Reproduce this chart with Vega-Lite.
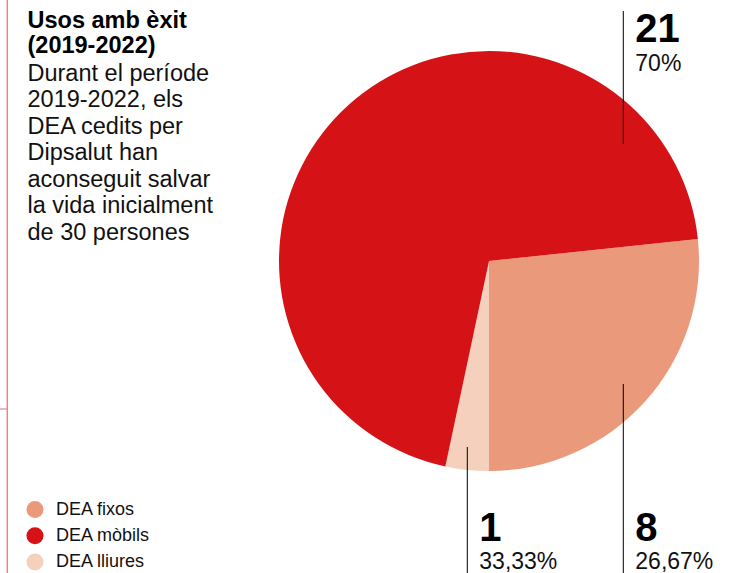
{
  "$schema": "https://vega.github.io/schema/vega-lite/v6.json",
  "width": 420,
  "height": 420,
  "autosize": {"type": "none"},
  "padding": {"left": 279, "top": 51, "right": 48, "bottom": 102},
  "background": "white",
  "config": {"view": {"stroke": null}, "font": "Liberation Sans"},
  "title": {
    "text": ["Usos amb èxit", "(2019-2022)"],
    "subtitle": ["Durant el període", "2019-2022, els", "DEA cedits per", "Dipsalut han", "aconseguit salvar", "la vida inicialment", "de 30 persones"],
    "anchor": "start",
    "frame": "group",
    "orient": "top",
    "dx": -251.5,
    "dy": 249,
    "font": "Liberation Sans",
    "fontSize": 23.5,
    "fontWeight": "bold",
    "color": "#000000",
    "lineHeight": 25,
    "subtitleFont": "Liberation Sans",
    "subtitleFontSize": 23.5,
    "subtitleColor": "#111111",
    "subtitleLineHeight": 26.5,
    "subtitlePadding": 4
  },
  "data": {
    "values": [
      {"categoria": "DEA fixos", "valor": 8, "percentatge": "26,67%"},
      {"categoria": "DEA lliures", "valor": 1, "percentatge": "33,33%"},
      {"categoria": "DEA mòbils", "valor": 21, "percentatge": "70%"}
    ]
  },
  "layer": [
    {
      "mark": {"type": "arc", "outerRadius": 210},
      "encoding": {
        "theta": {"field": "valor", "type": "quantitative", "stack": true, "scale": {"range": [1.46608, 7.74926]}},
        "order": {"field": "categoria", "sort": "ascending"},
        "color": {
          "field": "categoria",
          "type": "nominal",
          "scale": {"domain": ["DEA fixos", "DEA mòbils", "DEA lliures"], "range": ["#EB997B", "#D51317", "#F5D0BC"]},
          "legend": {
            "orient": "none",
            "legendX": -253,
            "legendY": 449.5,
            "title": null,
            "symbolType": "circle",
            "symbolSize": 290,
            "symbolStrokeWidth": 0,
            "symbolOpacity": 1,
            "labelFont": "Liberation Sans",
            "labelFontSize": 18,
            "labelColor": "#111111",
            "labelOffset": 12,
            "rowPadding": 8.2,
            "padding": 0
          }
        }
      }
    },
    {
      "transform": [{"filter": "datum.categoria === 'DEA mòbils'"}],
      "mark": {"type": "rule", "color": "#000000", "strokeWidth": 1},
      "encoding": {
        "x": {"field": "valor", "type": "quantitative", "axis": null, "scale": {"domain": [1, 8], "range": [188.3, 344.3], "clamp": true, "zero": false, "nice": false}},
        "y": {"field": "valor", "type": "quantitative", "axis": null, "scale": {"domain": [0, 21], "range": [93, -40], "zero": false, "nice": false}},
        "y2": {"datum": 0}
      }
    },
    {
      "transform": [{"filter": "datum.categoria !== 'DEA mòbils'"}],
      "mark": {"type": "rule", "color": "#000000", "strokeWidth": 1},
      "encoding": {
        "x": {"field": "valor", "type": "quantitative", "axis": null, "scale": {"domain": [1, 8], "range": [188.3, 344.3], "clamp": true, "zero": false, "nice": false}},
        "y": {"field": "valor", "type": "quantitative", "axis": null, "scale": {"domain": [0, 1, 8], "range": [522, 396, 333], "zero": false, "nice": false}},
        "y2": {"datum": 0}
      }
    },
    {
      "mark": {"type": "text", "align": "left", "baseline": "alphabetic", "dx": 12, "font": "Liberation Sans", "fontSize": 40, "fontWeight": "bold", "color": "#000000"},
      "encoding": {
        "x": {"field": "valor", "type": "quantitative", "axis": null, "scale": {"domain": [1, 8], "range": [188.3, 344.3], "clamp": true, "zero": false, "nice": false}},
        "y": {"field": "valor", "type": "quantitative", "axis": null, "scale": {"domain": [8, 21], "range": [489.7, -9.3], "clamp": true, "zero": false, "nice": false}},
        "text": {"field": "valor", "type": "quantitative"}
      }
    },
    {
      "mark": {"type": "text", "align": "left", "baseline": "alphabetic", "dx": 12, "font": "Liberation Sans", "fontSize": 23, "color": "#111111"},
      "encoding": {
        "x": {"field": "valor", "type": "quantitative", "axis": null, "scale": {"domain": [1, 8], "range": [188.3, 344.3], "clamp": true, "zero": false, "nice": false}},
        "y": {"field": "valor", "type": "quantitative", "axis": null, "scale": {"domain": [8, 21], "range": [518, 20], "clamp": true, "zero": false, "nice": false}},
        "text": {"field": "percentatge", "type": "nominal"}
      }
    },
    {
      "data": {"values": [{"marc": "vora"}]},
      "mark": {"type": "rule", "color": "#E8858A", "strokeWidth": 1.5},
      "encoding": {
        "x": {"datum": 0, "type": "quantitative", "axis": null, "scale": {"domain": [0, 1], "range": [-271.7, 0], "zero": false, "nice": false}},
        "y": {"datum": 0, "type": "quantitative", "axis": null, "scale": {"domain": [0, 1], "range": [-51, 522], "zero": false, "nice": false}},
        "y2": {"datum": 1}
      }
    },
    {
      "data": {"values": [{"marc": "marca"}]},
      "mark": {"type": "rule", "color": "#E8858A", "strokeWidth": 1.2},
      "encoding": {
        "x": {"datum": 0, "type": "quantitative", "axis": null, "scale": {"domain": [0, 1], "range": [-279, -271.7], "zero": false, "nice": false}},
        "x2": {"datum": 1},
        "y": {"datum": 0, "type": "quantitative", "axis": null, "scale": {"domain": [0, 1], "range": [358, 359], "zero": false, "nice": false}}
      }
    }
  ],
  "resolve": {"scale": {"x": "independent", "y": "independent"}}
}
